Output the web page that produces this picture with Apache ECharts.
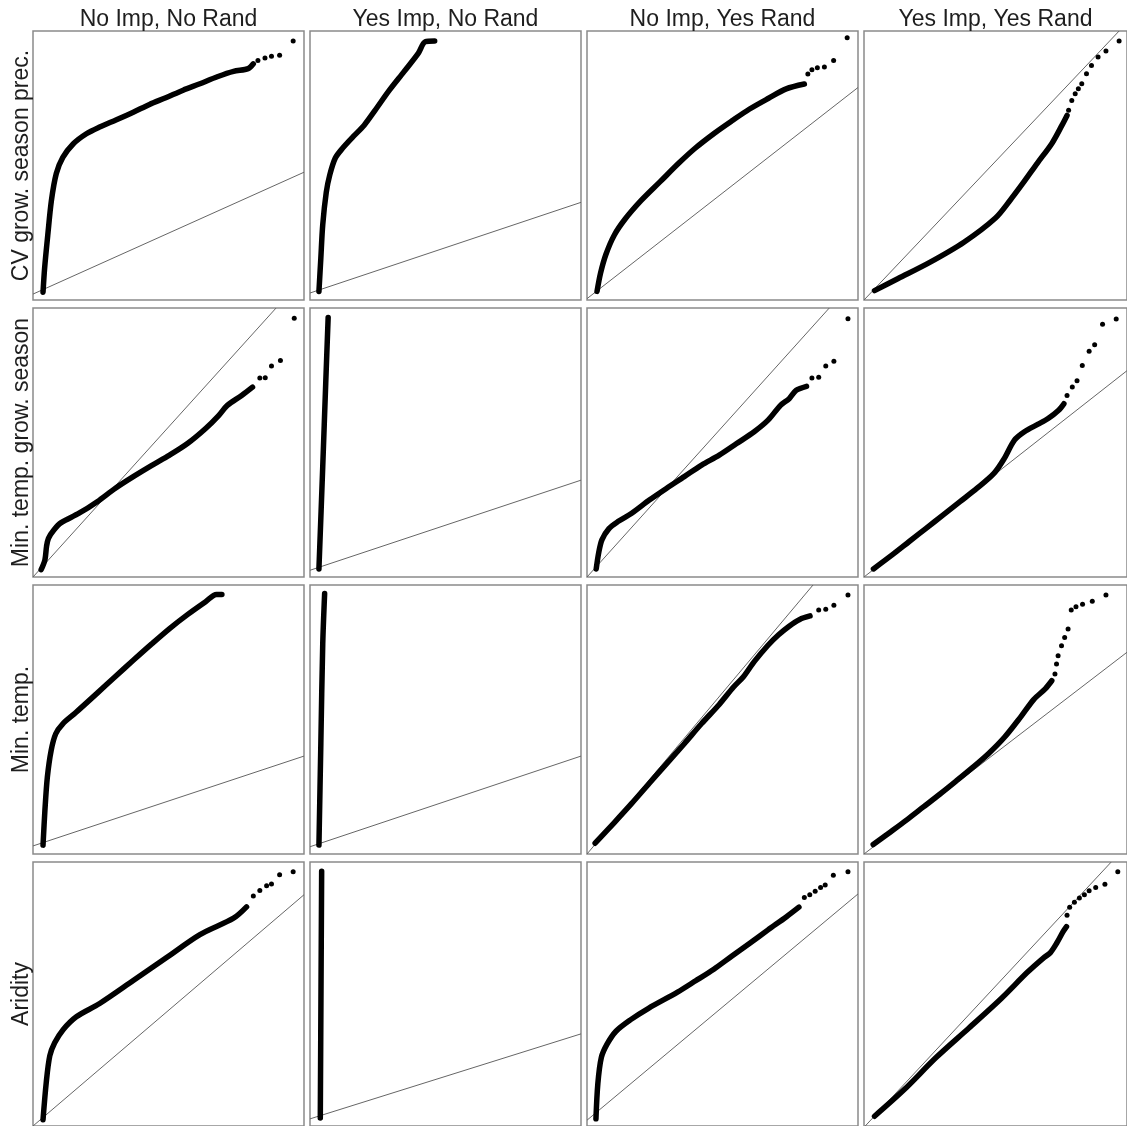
<!DOCTYPE html>
<html>
<head>
<meta charset="utf-8">
<title>QQ plots</title>
<script src="https://cdn.jsdelivr.net/npm/echarts@6/dist/echarts.min.js"></script>
<style>
    html, body { margin: 0; padding: 0; background: #fff; }
    #chart { width: 1127px; height: 1126px; }
</style>
</head>
<body>
<div id="chart"></div>
<script>
var colNames = ['No Imp, No Rand', 'Yes Imp, No Rand', 'No Imp, Yes Rand', 'Yes Imp, Yes Rand'];
var rowNames = ['CV grow. season prec.', 'Min. temp. grow. season', 'Min. temp.', 'Aridity'];

/* each panel: dense band of quantiles, sparse upper tail, reference line (both axes 0-100) */
var bulk11 = [[3.7, 2.9], [4.3, 12], [5.5, 24.6], [6.8, 37], [8.6, 47], [11, 53], [14.8, 58], [19.7, 61.8], [24.6, 64.3], [30.8, 67], [37, 69.8], [43, 72.7], [49, 75.2], [55.4, 78], [61.6, 80.4], [68, 83], [74, 85], [79.4, 86], [81.3, 87.8]];
var tail11 = [[83, 89], [85.6, 90], [88, 90.6], [91, 91], [96, 96.3]];
var ref11 = [[0, 2.2], [100, 47.5]];

var bulk12 = [[3.3, 3.2], [4, 15.6], [4.7, 28], [6, 40], [7.3, 46.5], [9.3, 52.7], [12, 56.4], [16, 60.8], [20, 65], [24, 70.5], [29.3, 78], [34.7, 84.9], [40, 91.8], [42.5, 96], [46, 96.3]];
var tail12 = [];
var ref12 = [[0, 2.6], [100, 36.3]];

var bulk13 = [[3.7, 3.2], [5, 10], [7, 17], [10, 24], [14, 30], [20, 37], [27, 44], [34, 51], [40, 56.5], [47, 62], [53.5, 66.6], [60, 71], [67, 75], [73.5, 78.5], [80.2, 80.3]];
var tail13 = [[81.5, 84], [83, 85.6], [85, 86.3], [87.6, 86.6], [91, 89], [96, 97.5]];
var ref13 = [[0, 0.5], [100, 79]];

var bulk14 = [[4, 3.5], [13, 8], [25, 14], [38, 21.5], [50, 30.5], [55.5, 37], [60.5, 43.5], [66, 51], [71.5, 58.3], [75.3, 65], [77.2, 68.6]];
var tail14 = [[77.8, 70.5], [79, 74.2], [80.3, 76.7], [81.5, 78.5], [82.8, 80.4], [84.6, 84.1], [86.5, 87.2], [89, 90.3], [92, 92.6], [97, 96.3]];
var ref14 = [[0, 0], [97, 100]];

var bulk21 = [[3, 2.7], [4.4, 6.4], [5, 11.4], [5.7, 14.4], [7.7, 17.5], [10.4, 20.2], [17, 23.7], [23.7, 28], [30.4, 33], [37, 37.3], [43.7, 41.4], [50.4, 45.3], [57, 49.6], [63.7, 55.2], [68.5, 60], [71.7, 63.8], [77, 67.5], [81, 70.6]];
var tail21 = [[83.7, 74], [85.7, 74.1], [88, 78.4], [91.3, 80.5], [96.4, 96.2]];
var ref21 = [[0, 0], [89.7, 100]];

var bulk22 = [[3.3, 3], [4.7, 41], [5.8, 71.9], [6.7, 96.5]];
var tail22 = [];
var ref22 = [[0, 2.5], [100, 36]];

var bulk23 = [[3.4, 3], [4.3, 8.9], [5.5, 13.8], [8.1, 18], [11.4, 20.6], [16.5, 23.7], [23, 28.6], [29.4, 33], [35.9, 37.3], [42.3, 41.6], [48.8, 45.3], [55.2, 49.6], [61.7, 54], [66.8, 58.3], [71.4, 63.8], [74.6, 66.3], [77.2, 69.4], [81, 70.9]];
var tail23 = [[83, 74], [85.5, 74.3], [88.1, 78.4], [91.1, 80.2], [96.3, 96]];
var ref23 = [[0, 0], [89.4, 100]];

var bulk24 = [[3.6, 3], [10.7, 8.2], [17.2, 13.2], [23.6, 18.1], [30, 23], [36.5, 28], [43, 33], [49.4, 38.5], [53.3, 44], [57.2, 50.9], [61, 54], [66.2, 56.8], [70, 58.9], [74, 62], [76, 64.4]];
var tail24 = [[77.2, 67.5], [79.2, 70.6], [81, 73], [83, 78.6], [85.6, 83.9], [87.7, 86.3], [90.7, 94], [95.9, 95.9]];
var ref24 = [[0, 0], [100, 76.7]];

var bulk31 = [[3.7, 3.3], [4.4, 16.3], [5.3, 28.6], [6.7, 38.5], [8.4, 44.7], [11, 48.4], [15.7, 52.5], [23.7, 59.8], [30.4, 66], [37, 72], [43.7, 78], [50.4, 83.8], [57, 89], [63.7, 93.8], [67.7, 96.5], [69.7, 96.5]];
var tail31 = [];
var ref31 = [[0, 3], [100, 36.4]];

var bulk32 = [[3.3, 3.3], [4, 41], [4.7, 78], [5.4, 96.8]];
var tail32 = [];
var ref32 = [[0, 2.7], [100, 36.4]];

var bulk33 = [[3, 4], [10, 11.6], [16.5, 18.8], [23, 26.3], [29.4, 33.6], [35.9, 41], [42.3, 48.5], [48.8, 55.6], [54, 62], [57.8, 66], [61.7, 71.5], [66.8, 77.6], [70.7, 81.5], [74.6, 84.7], [78.5, 87.2], [82.3, 88.5]];
var tail33 = [[85.5, 90.7], [88.1, 91], [91.1, 92.5], [96.3, 96.3]];
var ref33 = [[0, 0], [83.4, 100]];

var bulk34 = [[3.5, 3.5], [10.2, 8.3], [16.4, 12.8], [22.6, 17.5], [28.8, 22.2], [34.9, 27], [41.1, 32], [47.3, 37.3], [53.5, 43.5], [59.6, 51], [64.6, 57.5], [68.9, 61.4], [71.4, 64.4]];
var tail34 = [[72.6, 66.9], [73.2, 70.6], [73.8, 73.7], [75.1, 77.4], [76.3, 80.5], [77.6, 83.6], [78.8, 90.7], [80.6, 91.9], [83.1, 92.8], [86.8, 94], [92, 96.3]];
var ref34 = [[0, 0], [100, 75]];

var bulk41 = [[3.7, 2.4], [4.9, 16.6], [6.2, 26.6], [8, 31.5], [11.1, 36.5], [16, 41.4], [24.6, 46.4], [37, 55.1], [49.3, 63.8], [61.6, 72.5], [74, 78.7], [78.8, 83]];
var tail41 = [[81.3, 87.1], [83.7, 89.2], [86.2, 91], [88, 91.7], [91, 95.2], [96, 96.3]];
var ref41 = [[0, 0], [100, 87.6]];

var bulk42 = [[3.8, 3], [4.3, 96.5]];
var tail42 = [];
var ref42 = [[0, 2.7], [100, 34.9]];

var bulk43 = [[3.3, 2.7], [4, 16], [5.3, 26], [7.4, 31], [10.7, 35.9], [16, 40.2], [22.7, 44.6], [33.4, 50.7], [40.1, 55], [46.8, 59.4], [53.5, 64.4], [60.2, 69.3], [66.8, 74.3], [73.5, 79.2], [78.2, 82.9]];
var tail43 = [[80.2, 86.6], [82.2, 87.6], [84.2, 88.9], [86.2, 90.3], [87.9, 91.3], [90.9, 95], [96.3, 96.3]];
var ref43 = [[0, 2.2], [100, 87.9]];

var bulk44 = [[4, 3.7], [15.1, 13.6], [27.5, 26], [39.9, 37.1], [52.2, 48.3], [62.1, 58.2], [68.3, 63.7], [70.8, 65.6], [73.3, 69.3], [75.7, 73.6], [77, 75.5]];
var tail44 = [[77.2, 79.8], [78.2, 82.9], [80, 84.8], [81.9, 86.4], [83.8, 87.6], [85.6, 89.1], [88.1, 90.3], [91.6, 91.6], [96.5, 96.3]];
var ref44 = [[0, -0.5], [94, 100]];

var panels = [
    [[bulk11, tail11, ref11], [bulk12, tail12, ref12], [bulk13, tail13, ref13], [bulk14, tail14, ref14]],
    [[bulk21, tail21, ref21], [bulk22, tail22, ref22], [bulk23, tail23, ref23], [bulk24, tail24, ref24]],
    [[bulk31, tail31, ref31], [bulk32, tail32, ref32], [bulk33, tail33, ref33], [bulk34, tail34, ref34]],
    [[bulk41, tail41, ref41], [bulk42, tail42, ref42], [bulk43, tail43, ref43], [bulk44, tail44, ref44]]
];

var gridLeft = [33, 310, 587, 864];
var gridTop = [31, 308, 585, 862];
var gridW = 271, gridH = 269;
var labelStyle = {
    fontFamily: 'Liberation Sans',
    fontSize: 23,
    color: '#1e1e1e'
};

var grids = [], xAxes = [], yAxes = [], series = [];

for (var r = 0; r < 4; r++) {
    for (var c = 0; c < 4; c++) {
        var idx = r * 4 + c;
        var p = panels[r][c];
        grids.push({
            left: gridLeft[c],
            top: gridTop[r],
            width: gridW,
            height: gridH,
            show: true,
            borderColor: '#8a8a8a',
            borderWidth: 1.5,
            backgroundColor: '#fff'
        });
        xAxes.push({
            gridIndex: idx,
            type: 'value',
            min: 0,
            max: 100,
            position: 'top',
            name: r == 0 ? colNames[c] : '',
            nameLocation: 'middle',
            nameGap: 0,
            nameTextStyle: labelStyle,
            axisLine: { show: false },
            axisTick: { show: false },
            axisLabel: { show: false },
            splitLine: { show: false }
        });
        yAxes.push({
            gridIndex: idx,
            type: 'value',
            min: 0,
            max: 100,
            name: c == 0 ? rowNames[r] : '',
            nameLocation: 'middle',
            nameRotate: 90,
            nameGap: 0,
            nameTextStyle: labelStyle,
            axisLine: { show: false },
            axisTick: { show: false },
            axisLabel: { show: false },
            splitLine: { show: false }
        });
        series.push({
            type: 'line',
            xAxisIndex: idx,
            yAxisIndex: idx,
            data: p[2],
            symbol: 'none',
            silent: true,
            clip: true,
            z: 1,
            lineStyle: { color: '#666', width: 1 }
        });
        series.push({
            type: 'line',
            xAxisIndex: idx,
            yAxisIndex: idx,
            data: p[0],
            symbol: 'none',
            smooth: 0.3,
            silent: true,
            clip: true,
            z: 3,
            lineStyle: { color: '#000', width: 5.5, cap: 'round', join: 'round' }
        });
        series.push({
            type: 'scatter',
            xAxisIndex: idx,
            yAxisIndex: idx,
            data: p[1],
            symbolSize: 5,
            silent: true,
            z: 3,
            itemStyle: { color: '#000', opacity: 1 }
        });
    }
}

var chart = echarts.init(document.getElementById('chart'));
chart.setOption({
    backgroundColor: '#fff',
    animation: false,
    grid: grids,
    xAxis: xAxes,
    yAxis: yAxes,
    series: series
});
</script>
</body>
</html>
